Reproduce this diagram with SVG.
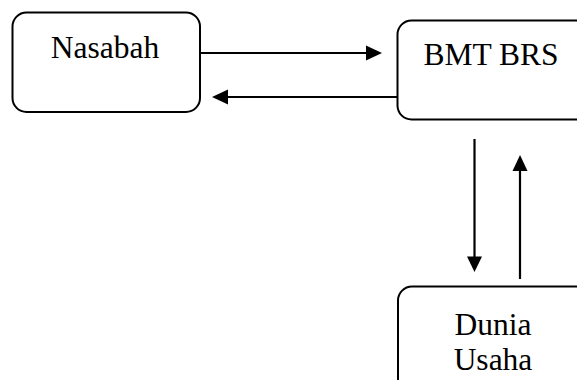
<svg xmlns="http://www.w3.org/2000/svg" width="577" height="380" viewBox="0 0 577 380">
<style>
.box{fill:#fff;stroke:#000;stroke-width:2}
.lbl{font-family:"Liberation Serif","Times New Roman",serif;font-size:31.5px;fill:#000;text-anchor:middle}
.ln{stroke:#000;stroke-width:2.2;fill:none}
.hd{fill:#000}
</style>
<rect width="577" height="380" fill="#fff"/>
<g id="nasabah">
<rect class="box" x="12.5" y="12.5" width="187.5" height="99.5" rx="14"/>
<text class="lbl" x="105" y="58">Nasabah</text>
</g>
<g id="bmt-brs">
<rect class="box" x="397.5" y="20.5" width="196" height="99" rx="14"/>
<text class="lbl" x="491" y="65">BMT BRS</text>
</g>
<g id="dunia-usaha">
<rect class="box" x="398" y="286.5" width="196" height="120" rx="14"/>
<text class="lbl" x="493" y="335">Dunia</text>
<text class="lbl" x="493" y="370">Usaha</text>
</g>
<g id="connectors">
<line class="ln" x1="200" y1="53" x2="367" y2="53"/>
<polygon class="hd" points="382,53 366,45.5 366,60.5"/>
<line class="ln" x1="397" y1="97" x2="227" y2="97"/>
<polygon class="hd" points="212,97 228,89.5 228,104.5"/>
<line class="ln" x1="474.5" y1="139" x2="474.5" y2="257"/>
<polygon class="hd" points="474.5,272 467,256.5 482,256.5"/>
<line class="ln" x1="520" y1="279" x2="520" y2="170"/>
<polygon class="hd" points="520,155 512.5,171 527.5,171"/>
</g>
</svg>
